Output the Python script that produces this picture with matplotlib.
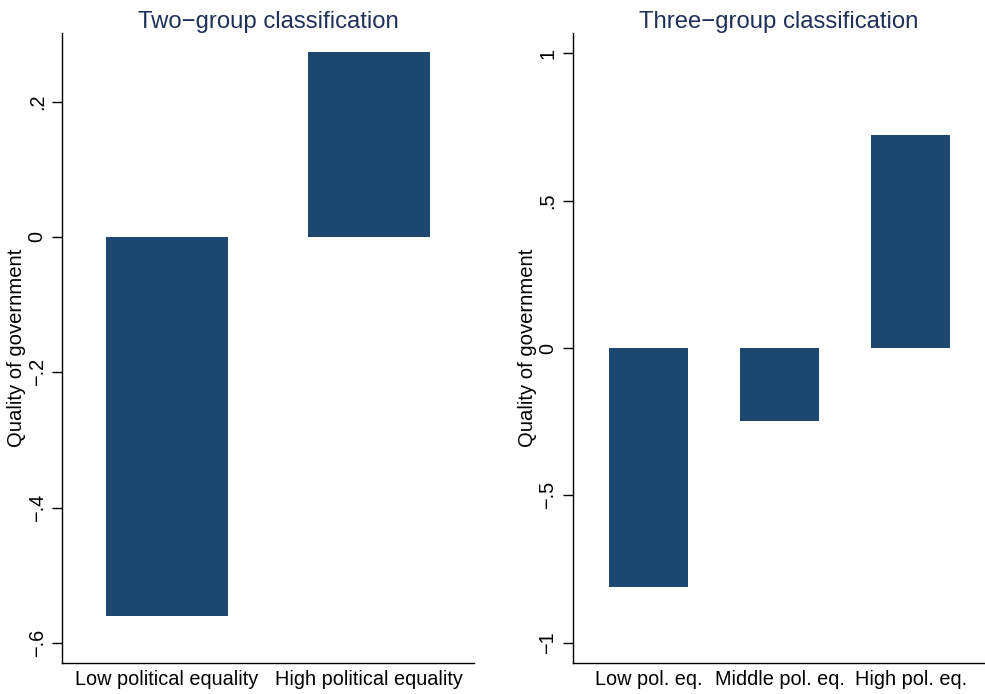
import matplotlib
matplotlib.use("Agg")
import matplotlib.pyplot as plt

plt.rcParams['font.family'] = ['Liberation Sans', 'DejaVu Sans']

two_labels = ["Low political equality", "High political equality"]
two_values = [-0.56, 0.2735]
two_yticks = [0.2, 0.0, -0.2, -0.4, -0.6]
two_yticklabels = [".2", "0", "\u2212.2", "\u2212.4", "\u2212.6"]

three_labels = ["Low pol. eq.", "Middle pol. eq.", "High pol. eq."]
three_values = [-0.811, -0.248, 0.723]
three_yticks = [1.0, 0.5, 0.0, -0.5, -1.0]
three_yticklabels = ["1", ".5", "0", "\u2212.5", "\u22121"]

bar_color = "#1c4870"
title_color = "#1f3159"

fig = plt.figure(figsize=(9.85, 6.94), dpi=100)
ax1 = fig.add_axes([62/985, 1-663/694, (474-62)/985, (663-33)/694])
ax2 = fig.add_axes([572.7/985, 1-663/694, (984-572.7)/985, (663-33)/694])

def style(ax, labels, values, yticks, yticklabels, ylim, xlim, title):
    x = list(range(len(labels)))
    ax.bar(x, values, width=0.604, color=bar_color, edgecolor='none')
    ax.set_xlim(*xlim)
    ax.set_ylim(*ylim)
    ax.set_xticks(x)
    ax.set_xticklabels(labels, fontsize=14.3)
    ax.tick_params(axis='x', length=0, pad=5)
    ax.set_yticks(yticks)
    ax.set_yticklabels(yticklabels, rotation=90, va='center', fontsize=14.3)
    ax.tick_params(axis='y', length=7, width=1, pad=4)
    for s in ['top', 'right']:
        ax.spines[s].set_visible(False)
    for s in ['left', 'bottom']:
        ax.spines[s].set_linewidth(1.0)
    ax.set_ylabel("Quality of government", fontsize=14.6, labelpad=1)
    ax.set_title(title, fontsize=17.2, color=title_color, pad=3)

style(ax1, two_labels, two_values, two_yticks, two_yticklabels,
      (-0.6297, 0.3015), (-0.52, 1.52), "Two\u2212group classification")
style(ax2, three_labels, three_values, three_yticks, three_yticklabels,
      (-1.069, 1.069), (-0.578, 2.56), "Three\u2212group classification")

fig.savefig("out.png", dpi=100)
